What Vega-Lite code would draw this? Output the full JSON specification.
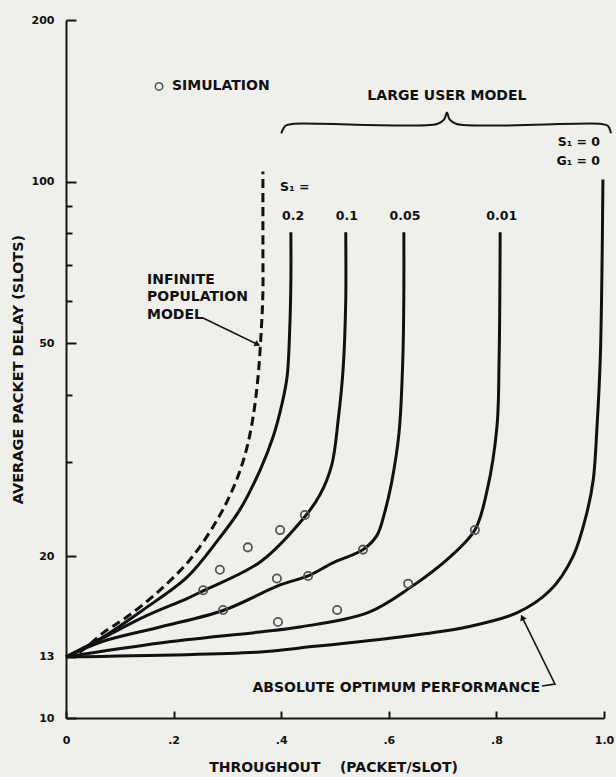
{
  "$schema": "https://vega.github.io/schema/vega-lite/v6.json",
  "width": 538,
  "height": 698,
  "autosize": {"type": "none"},
  "padding": {"left": 66, "top": 20, "right": 12, "bottom": 59},
  "background": "#efefec",
  "config": {
    "view": {"stroke": null},
    "font": "DejaVu Sans",
    "text": {"font": "DejaVu Sans", "fontWeight": "bold", "color": "#111111", "baseline": "middle"}
  },
  "datasets": {
    "curves": [
      {"s": "inf", "x": 0, "y": 13},
      {"s": "inf", "x": 0.026, "y": 13.28},
      {"s": "inf", "x": 0.069, "y": 14.41},
      {"s": "inf", "x": 0.113, "y": 15.43},
      {"s": "inf", "x": 0.169, "y": 17.11},
      {"s": "inf", "x": 0.230, "y": 19.7},
      {"s": "inf", "x": 0.281, "y": 23.4},
      {"s": "inf", "x": 0.312, "y": 27.0},
      {"s": "inf", "x": 0.333, "y": 31.0},
      {"s": "inf", "x": 0.347, "y": 36.0},
      {"s": "inf", "x": 0.357, "y": 43.3},
      {"s": "inf", "x": 0.363, "y": 52.9},
      {"s": "inf", "x": 0.366, "y": 62.1},
      {"s": "inf", "x": 0.366, "y": 74.7},
      {"s": "inf", "x": 0.366, "y": 104.4},
      {"s": "0.2", "x": 0, "y": 13},
      {"s": "0.2", "x": 0.069, "y": 14.16},
      {"s": "0.2", "x": 0.143, "y": 15.9},
      {"s": "0.2", "x": 0.225, "y": 18.3},
      {"s": "0.2", "x": 0.283, "y": 21.5},
      {"s": "0.2", "x": 0.323, "y": 24.43},
      {"s": "0.2", "x": 0.361, "y": 29.02},
      {"s": "0.2", "x": 0.385, "y": 33.43},
      {"s": "0.2", "x": 0.402, "y": 38.7},
      {"s": "0.2", "x": 0.411, "y": 43.3},
      {"s": "0.2", "x": 0.416, "y": 53.6},
      {"s": "0.2", "x": 0.418, "y": 65.6},
      {"s": "0.2", "x": 0.418, "y": 80.4},
      {"s": "0.1", "x": 0, "y": 13},
      {"s": "0.1", "x": 0.069, "y": 14.1},
      {"s": "0.1", "x": 0.143, "y": 15.4},
      {"s": "0.1", "x": 0.225, "y": 16.7},
      {"s": "0.1", "x": 0.255, "y": 17.26},
      {"s": "0.1", "x": 0.361, "y": 19.54},
      {"s": "0.1", "x": 0.442, "y": 23.6},
      {"s": "0.1", "x": 0.472, "y": 26.06},
      {"s": "0.1", "x": 0.494, "y": 29.65},
      {"s": "0.1", "x": 0.506, "y": 36.0},
      {"s": "0.1", "x": 0.515, "y": 44.6},
      {"s": "0.1", "x": 0.520, "y": 60.2},
      {"s": "0.1", "x": 0.520, "y": 80.4},
      {"s": "0.05", "x": 0, "y": 13},
      {"s": "0.05", "x": 0.069, "y": 13.9},
      {"s": "0.05", "x": 0.175, "y": 14.78},
      {"s": "0.05", "x": 0.292, "y": 15.86},
      {"s": "0.05", "x": 0.398, "y": 17.7},
      {"s": "0.05", "x": 0.450, "y": 18.4},
      {"s": "0.05", "x": 0.496, "y": 19.46},
      {"s": "0.05", "x": 0.552, "y": 20.6},
      {"s": "0.05", "x": 0.578, "y": 21.9},
      {"s": "0.05", "x": 0.592, "y": 24.1},
      {"s": "0.05", "x": 0.605, "y": 27.4},
      {"s": "0.05", "x": 0.619, "y": 34.0},
      {"s": "0.05", "x": 0.626, "y": 46.5},
      {"s": "0.05", "x": 0.628, "y": 62.9},
      {"s": "0.05", "x": 0.628, "y": 80.4},
      {"s": "0.01", "x": 0, "y": 13},
      {"s": "0.01", "x": 0.175, "y": 13.8},
      {"s": "0.01", "x": 0.361, "y": 14.47},
      {"s": "0.01", "x": 0.435, "y": 14.78},
      {"s": "0.01", "x": 0.560, "y": 15.7},
      {"s": "0.01", "x": 0.639, "y": 17.48},
      {"s": "0.01", "x": 0.714, "y": 19.97},
      {"s": "0.01", "x": 0.760, "y": 22.4},
      {"s": "0.01", "x": 0.783, "y": 26.64},
      {"s": "0.01", "x": 0.801, "y": 34.9},
      {"s": "0.01", "x": 0.805, "y": 46.5},
      {"s": "0.01", "x": 0.807, "y": 80.4},
      {"s": "0", "x": 0, "y": 13},
      {"s": "0", "x": 0.361, "y": 13.28},
      {"s": "0", "x": 0.435, "y": 13.51},
      {"s": "0", "x": 0.621, "y": 14.16},
      {"s": "0", "x": 0.745, "y": 14.78},
      {"s": "0", "x": 0.838, "y": 15.7},
      {"s": "0", "x": 0.900, "y": 17.3},
      {"s": "0", "x": 0.942, "y": 19.97},
      {"s": "0", "x": 0.968, "y": 24.1},
      {"s": "0", "x": 0.980, "y": 27.8},
      {"s": "0", "x": 0.987, "y": 34.9},
      {"s": "0", "x": 0.993, "y": 46.5},
      {"s": "0", "x": 0.996, "y": 65.6},
      {"s": "0", "x": 0.998, "y": 100.9}
    ],
    "simulation": [
      {"x": 0.255, "y": 17.3},
      {"x": 0.286, "y": 18.9},
      {"x": 0.338, "y": 20.8},
      {"x": 0.398, "y": 22.4},
      {"x": 0.444, "y": 23.9},
      {"x": 0.292, "y": 15.9},
      {"x": 0.392, "y": 18.2},
      {"x": 0.450, "y": 18.4},
      {"x": 0.552, "y": 20.6},
      {"x": 0.394, "y": 15.1},
      {"x": 0.504, "y": 15.9},
      {"x": 0.636, "y": 17.8},
      {"x": 0.760, "y": 22.4}
    ],
    "legendSymbol": [{"x": 0.1729, "y": 150.4}],
    "brace": [
      {"x": 0.400, "y": 123},
      {"x": 0.408, "y": 127},
      {"x": 0.420, "y": 128},
      {"x": 0.690, "y": 128},
      {"x": 0.703, "y": 130.5},
      {"x": 0.708, "y": 134.5},
      {"x": 0.713, "y": 130.5},
      {"x": 0.726, "y": 128},
      {"x": 0.995, "y": 128},
      {"x": 1.007, "y": 127},
      {"x": 1.013, "y": 123}
    ],
    "pointers": [
      {"p": "inf", "x": 0.2528, "y": 55.8},
      {"p": "inf", "x": 0.356, "y": 49.7},
      {"p": "opt", "x": 0.8848, "y": 11.47},
      {"p": "opt", "x": 0.9089, "y": 11.57},
      {"p": "opt", "x": 0.848, "y": 15.4}
    ],
    "headInf": [{"x": 0.356, "y": 49.7}],
    "headOpt": [{"x": 0.848, "y": 15.4}],
    "notesLeft": [
      {"label": "SIMULATION", "x": 0.197, "y": 150.4},
      {"label": "INFINITE", "x": 0.1506, "y": 65.65},
      {"label": "POPULATION", "x": 0.1506, "y": 60.8},
      {"label": "MODEL", "x": 0.1506, "y": 56.5}
    ],
    "notesCenter": [
      {"label": "LARGE USER MODEL", "x": 0.708, "y": 144.1}
    ],
    "notesRight": [
      {"label": "ABSOLUTE OPTIMUM PERFORMANCE", "x": 0.881, "y": 11.37}
    ],
    "paramLeft": [
      {"label": "S₁ =", "x": 0.398, "y": 97.5}
    ],
    "paramCenter": [
      {"label": "0.2", "x": 0.422, "y": 86.4},
      {"label": "0.1", "x": 0.522, "y": 86.4},
      {"label": "0.05", "x": 0.630, "y": 86.4},
      {"label": "0.01", "x": 0.810, "y": 86.4}
    ],
    "paramRight": [
      {"label": "S₁ = 0", "x": 0.9926, "y": 118.3},
      {"label": "G₁ = 0", "x": 0.9926, "y": 109.4}
    ]
  },
  "encoding": {
    "x": {
      "field": "x",
      "type": "quantitative",
      "scale": {"domain": [0, 1], "nice": false, "zero": false},
      "axis": {
        "title": "THROUGHOUT\u00a0\u00a0\u00a0\u00a0(PACKET/SLOT)",
        "values": [0, 0.2, 0.4, 0.6, 0.8, 1],
        "labelExpr": "datum.value == 0 ? '0' : datum.value == 1 ? '1.0' : replace(format(datum.value, '.1f'), '0.', '.')",
        "grid": false,
        "domainColor": "#141414",
        "domainWidth": 2,
        "tickColor": "#141414",
        "tickWidth": 2,
        "tickSize": -7,
        "labelPadding": 23,
        "labelFont": "DejaVu Sans",
        "labelFontWeight": "bold",
        "labelFontSize": 11,
        "labelColor": "#111111",
        "labelFlush": false,
        "titleFont": "DejaVu Sans",
        "titleFontWeight": "bold",
        "titleFontSize": 14,
        "titleColor": "#111111",
        "titleX": 267,
        "titleY": 49,
        "titleAlign": "center",
        "titleBaseline": "middle"
      }
    },
    "y": {
      "field": "y",
      "type": "quantitative",
      "scale": {"type": "log", "domain": [10, 200], "nice": false},
      "axis": {
        "title": "AVERAGE PACKET DELAY (SLOTS)",
        "values": [10, 13, 20, 30, 40, 50, 60, 70, 80, 90, 100, 200],
        "labelExpr": "indexof([10, 13, 20, 50, 100, 200], datum.value) >= 0 ? format(datum.value, 'd') : ''",
        "grid": false,
        "domainColor": "#141414",
        "domainWidth": 2,
        "tickColor": "#141414",
        "tickWidth": 2,
        "tickSize": {"condition": {"test": "indexof([10, 13, 20, 50, 100, 200], datum.value) >= 0", "value": -10}, "value": -6},
        "labelPadding": 22,
        "labelFont": "DejaVu Sans",
        "labelFontWeight": "bold",
        "labelFontSize": 11,
        "labelColor": "#111111",
        "labelFlush": false,
        "titleFont": "DejaVu Sans",
        "titleFontWeight": "bold",
        "titleFontSize": 14.5,
        "titleColor": "#111111",
        "titleX": -48,
        "titleY": 349,
        "titleAlign": "center",
        "titleBaseline": "middle"
      }
    }
  },
  "layer": [
    {
      "data": {"name": "curves"},
      "transform": [{"filter": "datum.s != 'inf'"}],
      "mark": {"type": "line", "color": "#111111", "strokeWidth": 3, "interpolate": "catmull-rom"},
      "encoding": {"detail": {"field": "s"}, "order": {"value": null}}
    },
    {
      "data": {"name": "curves"},
      "transform": [{"filter": "datum.s == 'inf'"}],
      "mark": {"type": "line", "color": "#111111", "strokeWidth": 3, "strokeDash": [9, 5], "interpolate": "catmull-rom"},
      "encoding": {"order": {"value": null}}
    },
    {
      "data": {"name": "simulation"},
      "mark": {"type": "point", "shape": "circle", "filled": false, "stroke": "#555555", "strokeWidth": 1.8, "size": 68, "opacity": 1}
    },
    {
      "data": {"name": "legendSymbol"},
      "mark": {"type": "point", "shape": "circle", "filled": false, "stroke": "#555555", "strokeWidth": 1.6, "size": 55, "opacity": 1}
    },
    {
      "data": {"name": "brace"},
      "mark": {"type": "line", "color": "#161616", "strokeWidth": 2, "interpolate": "catmull-rom"},
      "encoding": {"order": {"value": null}}
    },
    {
      "data": {"name": "pointers"},
      "mark": {"type": "line", "color": "#161616", "strokeWidth": 1.6},
      "encoding": {"detail": {"field": "p"}, "order": {"value": null}}
    },
    {
      "data": {"name": "headInf"},
      "mark": {"type": "point", "shape": "triangle-right", "filled": true, "color": "#111111", "opacity": 1, "size": 45, "angle": 26}
    },
    {
      "data": {"name": "headOpt"},
      "mark": {"type": "point", "shape": "triangle-right", "filled": true, "color": "#111111", "opacity": 1, "size": 45, "angle": 244}
    },
    {
      "data": {"name": "notesLeft"},
      "mark": {"type": "text", "align": "left", "fontSize": 14},
      "encoding": {"text": {"field": "label"}}
    },
    {
      "data": {"name": "notesCenter"},
      "mark": {"type": "text", "align": "center", "fontSize": 14},
      "encoding": {"text": {"field": "label"}}
    },
    {
      "data": {"name": "notesRight"},
      "mark": {"type": "text", "align": "right", "fontSize": 14},
      "encoding": {"text": {"field": "label"}}
    },
    {
      "data": {"name": "paramLeft"},
      "mark": {"type": "text", "align": "left", "fontSize": 12.5},
      "encoding": {"text": {"field": "label"}}
    },
    {
      "data": {"name": "paramCenter"},
      "mark": {"type": "text", "align": "center", "fontSize": 12.5},
      "encoding": {"text": {"field": "label"}}
    },
    {
      "data": {"name": "paramRight"},
      "mark": {"type": "text", "align": "right", "fontSize": 12.5},
      "encoding": {"text": {"field": "label"}}
    }
  ]
}
